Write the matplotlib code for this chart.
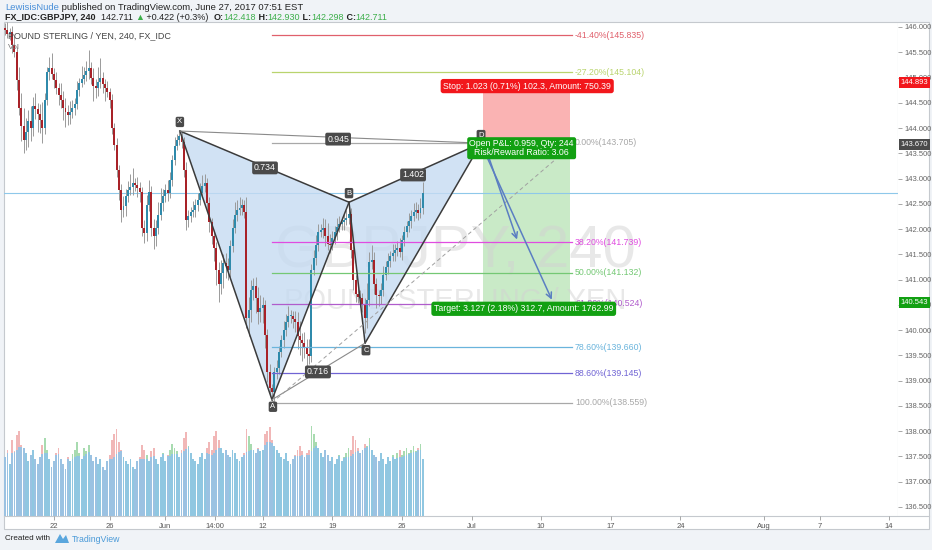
import matplotlib
matplotlib.use('Agg')
import matplotlib.pyplot as plt
from matplotlib.patches import Rectangle, Polygon
import matplotlib.transforms as mtransforms
import numpy as np
import pandas as pd

plt.rcParams['font.family'] = ['Liberation Sans', 'DejaVu Sans']

# 4h GBPJPY bars (bar index = trading-session position)
closes = [145.94, 145.86, 145.90, 145.64, 145.50, 144.95, 144.40, 144.04, 143.76, 143.92,
          144.14, 144.00, 144.44, 144.38, 144.28, 144.16, 144.00, 144.55, 145.11, 145.19,
          145.07, 144.95, 144.79, 144.65, 144.55, 144.40, 144.32, 144.26, 144.32, 144.40,
          144.48, 144.75, 144.89, 144.97, 145.05, 145.13, 145.19, 145.00, 144.83, 144.79,
          144.91, 144.99, 144.87, 144.79, 144.71, 144.55, 144.00, 143.66, 143.17, 142.77,
          142.38, 142.46, 142.65, 142.77, 142.83, 142.91, 142.87, 142.81, 142.73, 142.02,
          141.92, 142.48, 142.73, 142.02, 141.86, 142.02, 142.28, 142.51, 142.65, 142.77,
          142.71, 142.97, 143.37, 143.64, 143.76, 143.84, 143.72, 143.17, 142.18, 142.26,
          142.34, 142.38, 142.48, 142.57, 142.71, 142.85, 142.91, 142.51, 142.14, 141.86,
          141.62, 141.19, 140.91, 141.13, 141.33, 141.27, 141.19, 141.66, 142.02, 142.28,
          142.38, 142.42, 142.48, 142.34, 140.24, 140.40, 140.79, 140.87, 140.63, 140.36,
          140.44, 140.50, 139.90, 139.17, 138.85, 138.77, 139.17, 139.25, 139.56, 139.80,
          140.00, 140.16, 140.28, 140.28, 140.22, 140.16, 139.88, 139.80, 139.74, 139.64,
          139.52, 139.48, 141.19, 141.43, 141.68, 141.94, 141.98, 142.02, 141.86, 141.70,
          141.68, 141.82, 141.94, 142.04, 142.10, 142.14, 142.18, 142.22, 142.30, 141.58,
          140.99, 140.71, 140.65, 140.63, 140.51, 140.24, 140.59, 141.35, 141.39, 140.91,
          140.69, 140.67, 140.79, 141.09, 141.25, 141.37, 141.47, 141.52, 141.58, 141.62,
          141.54, 141.78, 141.94, 142.06, 142.16, 142.26, 142.34, 142.38, 142.32, 142.418,
          142.711]
first_open = 145.98

wick_hi = [0.10, 0.15, 0.08, 0.12, 0.20, 0.10, 0.25, 0.30, 0.35, 0.28,
           0.22, 0.30, 0.18, 0.25, 0.12, 0.20, 0.35, 0.15, 0.10, 0.22,
           0.30, 0.12, 0.15, 0.10, 0.25, 0.18, 0.20, 0.14, 0.22, 0.16,
           0.12, 0.18, 0.10, 0.25, 0.15, 0.20, 0.35, 0.12, 0.18, 0.15,
           0.30, 0.40, 0.12, 0.10, 0.15, 0.08, 0.12, 0.10, 0.15, 0.10,
           0.12, 0.20, 0.15, 0.18, 0.25, 0.30, 0.10, 0.15, 0.12, 0.10,
           0.15, 0.20, 0.25, 0.12, 0.18, 0.15, 0.25, 0.30, 0.15, 0.12,
           0.20, 0.15, 0.10, 0.18, 0.12, 0.10, 0.08, 0.10, 0.15, 0.12,
           0.10, 0.18, 0.12, 0.15, 0.20, 0.22, 0.18, 0.10, 0.12, 0.08,
           0.10, 0.12, 0.15, 0.25, 0.18, 0.20, 0.15, 0.12, 0.18, 0.25,
           0.20, 0.22, 0.12, 0.10, 0.30, 0.25, 0.20, 0.15, 0.18, 0.22,
           0.25, 0.15, 0.10, 0.12, 0.15, 0.08, 0.10, 0.15, 0.12, 0.10,
           0.18, 0.15, 0.20, 0.12, 0.10, 0.15, 0.20, 0.30, 0.15, 0.22,
           0.18, 0.30, 0.12, 0.15, 0.20, 0.15, 0.12, 0.20, 0.18, 0.25,
           0.20, 0.15, 0.12, 0.18, 0.15, 0.10, 0.12, 0.15, 0.23, 0.12,
           0.15, 0.10, 0.12, 0.15, 0.10, 0.12, 0.35, 0.20, 0.30, 0.15,
           0.12, 0.10, 0.15, 0.18, 0.12, 0.15, 0.10, 0.18, 0.12, 0.15,
           0.20, 0.10, 0.12, 0.10, 0.15, 0.12, 0.18, 0.15, 0.12, 0.20,
           0.22]
wick_lo = [0.10, 0.08, 0.12, 0.15, 0.10, 0.20, 0.15, 0.30, 0.25, 0.20,
           0.30, 0.25, 0.15, 0.20, 0.35, 0.25, 0.30, 0.12, 0.10, 0.15,
           0.10, 0.15, 0.12, 0.20, 0.15, 0.25, 0.30, 0.20, 0.18, 0.12,
           0.15, 0.10, 0.12, 0.08, 0.10, 0.12, 0.15, 0.12, 0.30, 0.20,
           0.15, 0.12, 0.18, 0.25, 0.10, 0.15, 0.12, 0.10, 0.15, 0.20,
           0.25, 0.15, 0.20, 0.12, 0.10, 0.15, 0.12, 0.18, 0.20, 0.15,
           0.20, 0.15, 0.12, 0.15, 0.25, 0.20, 0.12, 0.10, 0.15, 0.12,
           0.15, 0.10, 0.12, 0.10, 0.08, 0.10, 0.12, 0.15, 0.20, 0.15,
           0.12, 0.10, 0.15, 0.12, 0.10, 0.08, 0.12, 0.15, 0.20, 0.15,
           0.25, 0.30, 0.35, 0.20, 0.30, 0.25, 0.20, 0.15, 0.12, 0.10,
           0.12, 0.10, 0.15, 0.12, 0.20, 0.35, 0.25, 0.20, 0.30, 0.25,
           0.20, 0.30, 0.25, 0.20, 0.15, 0.17, 0.20, 0.15, 0.12, 0.10,
           0.15, 0.12, 0.10, 0.15, 0.18, 0.20, 0.25, 0.30, 0.35, 0.20,
           0.25, 0.15, 0.12, 0.10, 0.15, 0.12, 0.10, 0.15, 0.20, 0.12,
           0.15, 0.10, 0.12, 0.15, 0.10, 0.12, 0.15, 0.10, 0.12, 0.15,
           0.20, 0.15, 0.12, 0.18, 0.15, 0.30, 0.20, 0.12, 0.15, 0.20,
           0.25, 0.20, 0.15, 0.12, 0.10, 0.15, 0.12, 0.10, 0.15, 0.12,
           0.10, 0.15, 0.12, 0.10, 0.12, 0.15, 0.10, 0.12, 0.15, 0.10,
           0.12]
volumes = [62, 70, 55, 80, 68, 85, 90, 75, 72, 66,
           58, 64, 70, 60, 55, 62, 75, 82, 70, 60,
           52, 58, 66, 72, 60, 55, 50, 62, 58, 65,
           70, 78, 66, 60, 72, 68, 75, 64, 58, 62,
           55, 60, 52, 48, 58, 64, 80, 86, 92, 78,
           70, 62, 58, 55, 60, 52, 50, 58, 62, 75,
           70, 64, 58, 68, 72, 60, 55, 62, 66, 58,
           64, 70, 76, 72, 68, 62, 70, 82, 88, 74,
           66, 60, 58, 55, 62, 66, 60, 72, 78, 70,
           84, 90, 80, 72, 66, 70, 64, 62, 70, 66,
           60, 58, 62, 66, 92, 84, 76, 70, 66, 72,
           68, 70, 86, 90, 94, 80, 74, 70, 66, 62,
           60, 66, 58, 55, 60, 64, 70, 74, 68, 62,
           66, 70, 95, 86, 78, 72, 66, 62, 70, 64,
           58, 62, 55, 60, 64, 58, 62, 66, 72, 70,
           84, 80, 72, 66, 70, 76, 74, 82, 70, 64,
           62, 58, 66, 60, 55, 62, 58, 64, 60, 66,
           70, 64, 68, 72, 66, 70, 74, 68, 72, 76,
           60]

tick_pos = [21, 45, 69, 90.5, 111, 141, 171, 201, 231, 261, 291, 327, 351, 381]
tick_lbl = ['22', '26', 'Jun', '14:00', '12', '19', '26', 'Jul', '10', '17', '24', 'Aug', '7', '14']

fib_pct = ['-41.40%', '-27.20%', '0.00%', '38.20%', '50.00%', '61.80%', '78.60%', '88.60%', '100.00%']
fib_price = [145.835, 145.104, 143.705, 141.739, 141.132, 140.524, 139.660, 139.145, 138.559]
fib_color = ['#e0606c', '#b9d46e', '#a8a8a8', '#e04ce0', '#74c874', '#b05ccc', '#6ab4dc', '#7064d4', '#a8a8a8']

pat_names = ['X', 'A', 'B', 'C', 'D']
pat_x = [75.3, 115.0, 148.2, 155.1, 205.1]
pat_y = [143.94, 138.62, 142.53, 139.74, 143.70]

entry, stop, target = 143.670, 144.893, 140.543
last_price = 142.711

df = pd.DataFrame({'close': closes, 'wh': wick_hi, 'wl': wick_lo, 'vol': volumes})
df['open'] = df['close'].shift(1).fillna(first_open)
df['high'] = df[['open', 'close']].max(axis=1) + df['wh']
df['low'] = df[['open', 'close']].min(axis=1) - df['wl']
df['up'] = df['close'] >= df['open']
idx = np.arange(len(df))

W, H = 932, 550
fig = plt.figure(figsize=(W / 100, H / 100), dpi=100, facecolor='#f0f3f7')

def fx(px):
    return px / W

def fy(py):
    return 1 - py / H

# white chart + scale backdrop
fig.patches.append(Rectangle((fx(4), fy(529)), fx(925), (529 - 22) / H, transform=fig.transFigure,
                             facecolor='white', edgecolor='#c5c9ce', lw=0.8, zorder=0))
fig.add_artist(plt.Line2D([fx(4), fx(929)], [fy(516), fy(516)], color='#c5c9ce', lw=0.8))

pos = [fx(4), fy(516), fx(894), (516 - 22) / H]
axv = fig.add_axes(pos)
ax = fig.add_axes(pos, sharex=axv)
ax.set_zorder(2)
axv.set_zorder(1)
ax.patch.set_alpha(0)
axv.patch.set_alpha(0)

# volume
up_c, dn_c = '#2f8aab', '#a82228'
vcol = np.where(df['up'], '#9fd8a8', '#f0b0b0')
axv.bar(idx, df['vol'], width=0.8, color=vcol, alpha=0.9)
vma = df['vol'].rolling(10, min_periods=1).mean()
axv.bar(idx, np.minimum(vma, df['vol']), width=0.8, color='#8cc4ea', alpha=0.85)
axv.set_ylim(0, 520)
axv.axis('off')

ax.set_xlim(-0.5, 384.8)
ax.set_ylim(136.317, 146.099)

# short position zones (behind the watermark)
ax.add_patch(Rectangle((206, entry), 37.5, stop - entry, facecolor='#fab3b3', edgecolor='none', zorder=0.8))
ax.add_patch(Rectangle((206, target), 37.5, entry - target, facecolor='#c9eac7', edgecolor='none', zorder=0.8))

# watermark
ax.text(193.9, 141.55, 'GBPJPY, 240', fontsize=43, color='#d2d2d2', alpha=0.5, ha='center', va='center', zorder=1)
ax.text(193.9, 140.57, 'POUND STERLING / YEN', fontsize=21, color='#d2d2d2', alpha=0.5, ha='center', va='center', zorder=1)

# last price line
ax.axhline(last_price, color='#8ec8ea', lw=0.8, zorder=1.5)

# harmonic pattern fill (under the candles)
px_ = dict(zip(pat_names, zip(pat_x, pat_y)))
for tri in (['X', 'A', 'B'], ['B', 'C', 'D']):
    ax.add_patch(Polygon([px_[k] for k in tri], closed=True, facecolor='#c6dbf2', alpha=0.8,
                         edgecolor='none', zorder=1.8))

# candles
ax.vlines(idx, df['low'], df['high'], color='#9a9a9a', lw=0.7, zorder=2)
ccol = np.where(df['up'], up_c, dn_c)
body = (df['close'] - df['open']).abs().clip(lower=0.015)
ax.bar(idx, body, bottom=df[['open', 'close']].min(axis=1), width=0.85, color=ccol, zorder=3)

# fib levels
for pct, pr, col in zip(fib_pct, fib_price, fib_color):
    ax.plot([115.0, 244.3], [pr, pr], color=col, lw=0.9, zorder=4)
    ax.text(245.6, pr, '%s(%.3f)' % (pct, pr), color=col, fontsize=6.3, va='center', ha='left', zorder=4)

for a, b in [('X', 'A'), ('A', 'B'), ('B', 'C'), ('C', 'D'), ('X', 'B'), ('B', 'D')]:
    ax.plot([px_[a][0], px_[b][0]], [px_[a][1], px_[b][1]], color='#3b3b3b', lw=1.1, zorder=5)
for a, b in [('X', 'D'), ('A', 'C')]:
    ax.plot([px_[a][0], px_[b][0]], [px_[a][1], px_[b][1]], color='#8a8a8a', lw=0.8, zorder=5)
ax.plot([115.0, 236.99], [138.56, 143.37], color='#a0a0a0', lw=0.7, ls=(0, (4, 3)), zorder=5)

dark = dict(boxstyle='round,pad=0.22', fc='#4a4a4a', ec='none')
for name, xx, yy in [('X', 75.3, 144.12), ('A', 115.4, 138.48), ('B', 148.2, 142.71),
                     ('C', 155.5, 139.60), ('D', 205.1, 143.86)]:
    ax.text(xx, yy, name, color='white', fontsize=5.5, ha='center', va='center', bbox=dark, zorder=7)
for txt, xx, yy in [('0.734', 112.0, 143.21), ('0.945', 143.5, 143.78), ('1.402', 175.8, 143.07),
                    ('0.716', 134.8, 139.17)]:
    ax.text(xx, yy, txt, color='white', fontsize=6.3, ha='center', va='center', bbox=dark, zorder=7)

# position tool labels
ax.text(225, 144.83, 'Stop: 1.023 (0.71%) 102.3, Amount: 750.39', color='white', fontsize=6.3,
        ha='center', va='center', bbox=dict(boxstyle='round,pad=0.3', fc='#f2171c', ec='none'), zorder=8)
ax.text(222.6, 143.60, 'Open P&L: 0.959, Qty: 244\nRisk/Reward Ratio: 3.06', color='white', fontsize=6.3,
        ha='center', va='center', linespacing=0.95,
        bbox=dict(boxstyle='round,pad=0.25', fc='#12a012', ec='none'), zorder=8)
ax.text(223.5, 140.42, 'Target: 3.127 (2.18%) 312.7, Amount: 1762.99', color='white', fontsize=6.3,
        ha='center', va='center', bbox=dict(boxstyle='round,pad=0.3', fc='#12a012', ec='none'), zorder=8)

for (x0, y0), (x1, y1) in [((207.7, 143.52), (221.0, 141.74)), ((207.3, 143.46), (236.1, 140.55))]:
    ax.annotate('', xy=(x1, y1), xytext=(x0, y0),
                arrowprops=dict(arrowstyle='->', color='#5b7ec2', lw=1.1), zorder=6)

# axes styling
for s in ax.spines.values():
    s.set_visible(False)
ax.yaxis.tick_right()
ax.set_yticks(np.arange(136.5, 146.01, 0.5))
ax.set_yticklabels(['%.3f' % v for v in np.arange(136.5, 146.01, 0.5)])
ax.tick_params(axis='y', labelsize=5.5, colors='#9a9a9a', labelcolor='#666666', length=3, pad=2, width=0.6)
ax.set_xticks(tick_pos)
ax.set_xticklabels(tick_lbl)
ax.tick_params(axis='x', labelsize=5.5, colors='#9a9a9a', labelcolor='#555555', length=3, pad=2, width=0.6)
ax.axvline(384.8, color='#c5c9ce', lw=0.8)

tr = mtransforms.blended_transform_factory(ax.transAxes, ax.transData)
for val, col in [(stop, '#f2171c'), (entry, '#4a4a4a'), (target, '#12a012')]:
    ax.text(1.003, val, '%.3f' % val, transform=tr, color='white', fontsize=5.5, ha='left', va='center',
            bbox=dict(boxstyle='square,pad=0.25', fc=col, ec='none'), zorder=9, clip_on=False)

ax.text(1.2, 145.83, 'POUND STERLING / YEN, 240, FX_IDC', fontsize=6.5, color='#444444', va='center', zorder=9)
ax.text(1.2, 145.60, 'Vol', fontsize=6, color='#777777', va='center', zorder=9)

# header and footer
fig.canvas.draw()
rend = fig.canvas.get_renderer()

def chain(x, y, parts, size):
    for txt, col, wt in parts:
        t = fig.text(fx(x), fy(y), txt, color=col, fontsize=size, fontweight=wt, va='center', ha='left')
        bb = t.get_window_extent(rend)
        x += bb.width

chain(5, 7, [('LewisisNude', '#4a90d9', 'normal'),
             (' published on TradingView.com, June 27, 2017 07:51 EST', '#222222', 'normal')], 6.8)
grn = '#3cae4a'
chain(5, 17, [('FX_IDC:GBPJPY, 240', '#222222', 'bold'), ('  142.711 ', '#222222', 'normal'),
              ('▲', grn, 'normal'), (' +0.422 (+0.3%)  ', '#222222', 'normal'),
              ('O:', '#222222', 'bold'), ('142.418', grn, 'normal'), (' H:', '#222222', 'bold'),
              ('142.930', grn, 'normal'), (' L:', '#222222', 'bold'), ('142.298', grn, 'normal'),
              (' C:', '#222222', 'bold'), ('142.711', grn, 'normal')], 6.5)
fig.text(fx(5), fy(539), 'Created with', fontsize=5.8, color='#222222', va='center')
fig.patches.append(Polygon([(fx(55), fy(543)), (fx(60), fy(534)), (fx(63), fy(539)), (fx(66), fy(535)),
                            (fx(69), fy(543))], closed=True, transform=fig.transFigure,
                           facecolor='#5aa6dd', edgecolor='none'))
fig.text(fx(72), fy(539), 'TradingView', fontsize=6.3, color='#4a9ad8', va='center')

fig.savefig('out.png', dpi=100, facecolor=fig.get_facecolor())
